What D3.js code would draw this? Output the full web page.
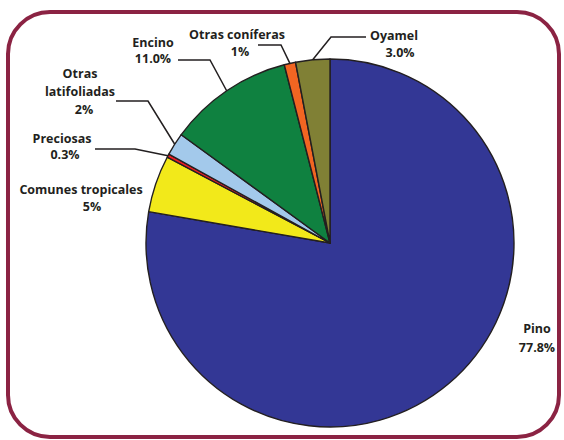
<!DOCTYPE html>
<html>
<head>
<meta charset="utf-8">
<script src="https://cdn.jsdelivr.net/npm/d3@7"></script>
<style>
html,body{margin:0;padding:0;background:#fff;}
svg{display:block;}
text{font-family:"Open Sans",sans-serif;font-weight:bold;font-size:12.5px;fill:#231f20;}
</style>
</head>
<body>
<svg id="chart" width="564" height="440"></svg>
<script>
// ---- data ----
const categories = ["Pino", "Comunes tropicales", "Preciosas", "Otras latifoliadas", "Encino", "Otras coníferas", "Oyamel"];
const values = [77.8, 5, 0.3, 2, 11.0, 1, 3.0];
const valueLabels = ["77.8%", "5%", "0.3%", "2%", "11.0%", "1%", "3.0%"];
const colors = ["#333795", "#f2e91a", "#ed1c24", "#a3c9eb", "#0f8140", "#f26522", "#808035"];

// ---- layout (label placement) ----
const labelLayout = [
  {lines: ["Pino"], x: 537, y: 333, vx: 537, vy: 352, leader: null},
  {lines: ["Comunes tropicales"], x: 81, y: 194, vx: 92, vy: 211, leader: null},
  {lines: ["Preciosas"], x: 62, y: 143, vx: 65, vy: 159, leader: [[95,149],[135,149]]},
  {lines: ["Otras", "latifoliadas"], x: 80, y: 78, vx: 84, vy: 114, leader: [[116,101],[148,101]]},
  {lines: ["Encino"], x: 153, y: 47, vx: 153, vy: 63, leader: [[178,60],[210,60]]},
  {lines: ["Otras coníferas"], x: 237, y: 39, vx: 240, vy: 56, leader: [[258,45],[281,45]]},
  {lines: ["Oyamel"], x: 394, y: 40, vx: 400, vy: 57, leader: [[366,37],[331,37]]}
];

const svg = d3.select("#chart");
const W = 564, H = 440;

// frame
svg.append("rect")
  .attr("x", 8).attr("y", 12).attr("width", 551).attr("height", 425)
  .attr("rx", 42).attr("ry", 42)
  .attr("fill", "#fff").attr("stroke", "#8b2343").attr("stroke-width", 4);

const cx = 330, cy = 243, r = 184;
const g = svg.append("g").attr("transform", `translate(${cx},${cy})`);

const data = categories.map((c, i) => ({name: c, value: values[i], color: colors[i], label: valueLabels[i], layout: labelLayout[i]}));
const pie = d3.pie().sort(null).value(d => d.value);
const arcs = pie(data);
const arc = d3.arc().innerRadius(0).outerRadius(r);
const edge = d3.arc().innerRadius(r).outerRadius(r);

g.selectAll("path.slice").data(arcs).enter().append("path")
  .attr("class", "slice")
  .attr("d", arc)
  .attr("fill", d => d.data.color)
  .attr("stroke", "#231f20")
  .attr("stroke-width", 1.4)
  .attr("stroke-linejoin", "round");

// leaders
arcs.forEach(a => {
  const L = a.data.layout;
  if (!L.leader) return;
  const c = edge.centroid(a);
  const p = [[L.leader[0][0], L.leader[0][1]], [L.leader[1][0], L.leader[1][1]], [c[0] + cx, c[1] + cy]];
  svg.append("path")
    .attr("d", d3.line()(p))
    .attr("fill", "none")
    .attr("stroke", "#231f20")
    .attr("stroke-width", 1.5);
});

// labels
arcs.forEach(a => {
  const L = a.data.layout;
  L.lines.forEach((ln, j) => {
    svg.append("text").attr("x", L.x).attr("y", L.y + j * 18)
      .attr("text-anchor", "middle").text(ln);
  });
  svg.append("text").attr("x", L.vx).attr("y", L.vy)
    .attr("text-anchor", "middle").text(a.data.label);
});
</script>
</body>
</html>
